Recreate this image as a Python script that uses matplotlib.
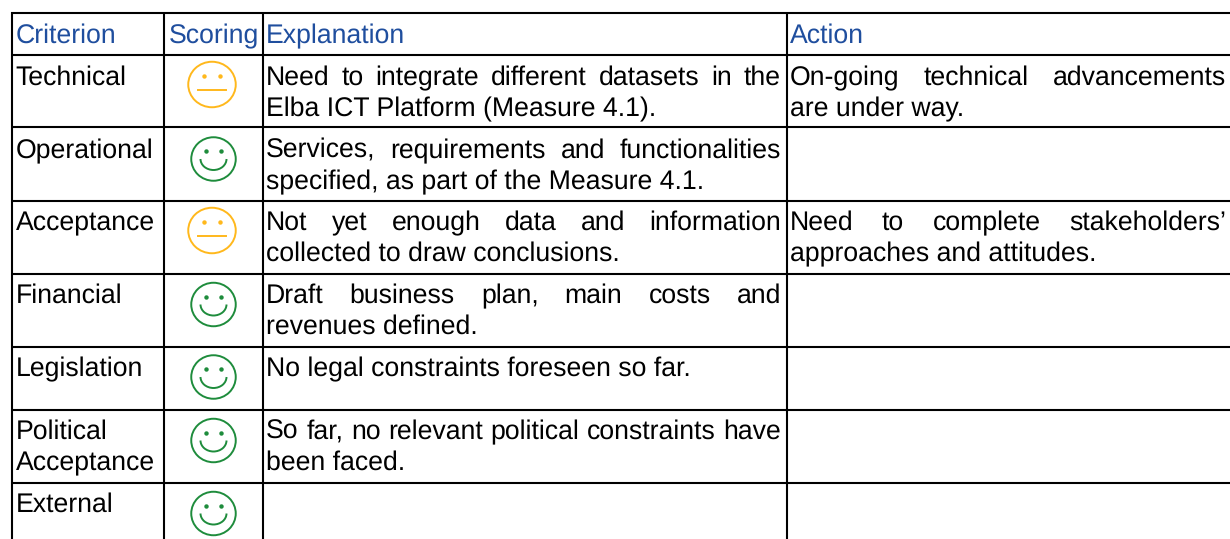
import matplotlib
matplotlib.use('Agg')
import matplotlib.pyplot as plt
from matplotlib.patches import Ellipse, Arc

plt.rcParams['font.family'] = ['Liberation Sans', 'DejaVu Sans']
plt.rcParams['text.hinting'] = 'no_hinting'

headers = ['Criterion', 'Scoring', 'Explanation', 'Action']
criteria = [['Technical'], ['Operational'], ['Acceptance'], ['Financial'],
            ['Legislation'], ['Political', 'Acceptance'], ['External']]
scores = ['neutral', 'good', 'neutral', 'good', 'good', 'good', 'good']
explanations = [
    ['Need to integrate different datasets in the', 'Elba ICT Platform (Measure 4.1).'],
    ['Services, requirements and functionalities', 'specified, as part of the Measure 4.1.'],
    ['Not yet enough data and information', 'collected to draw conclusions.'],
    ['Draft business plan, main costs and', 'revenues defined.'],
    ['No legal constraints foreseen so far.'],
    ['So far, no relevant political constraints have', 'been faced.'],
    [],
]
actions = [
    ['On-going technical advancements', 'are under way.'],
    [],
    ['Need to complete stakeholders\u2019', 'approaches and attitudes.'],
    [], [], [], [],
]

# layout, in pixels of the 1230x539 picture
col_lines = [12, 164, 263, 787]
row_lines = [13, 54.5, 127, 200.5, 273.5, 346.5, 410, 483]
face_y = [84.5, 159, 230.5, 304.5, 377, 440.5, 513.5]
first_base = [85, 158, 230, 303, 376, 439, 512]
line_step = 31
font_size = 19.2
BLUE = '#1F4E9E'
YELLOW = '#FFB81C'
GREEN = '#1E8C3C'
LW = 1.5
FACE_LW = 1.4


def text_width(ax, s):
    t = ax.text(0, 0, s, fontsize=font_size)
    w = t.get_window_extent(ax.figure.canvas.get_renderer()).width
    t.remove()
    return w


def draw_justified(ax, line, x0, x1, y):
    """Spreads the words of one line over the width of the cell."""
    words = line.split()
    widths = [text_width(ax, w) for w in words]
    gap = (x1 - x0 - sum(widths)) / (len(words) - 1)
    x = x0
    for w, width in zip(words, widths):
        ax.text(x, y, w, fontsize=font_size, color='black', va='baseline')
        x += width + gap


def draw_cell(ax, lines, x0, x1, y):
    for i, line in enumerate(lines):
        base = y + i * line_step
        if i < len(lines) - 1:
            draw_justified(ax, line, x0, x1, base)
        else:
            ax.text(x0, base, line, fontsize=font_size, color='black', va='baseline')


def draw_face(ax, kind, y):
    if kind == 'neutral':
        cx = 212
        color = YELLOW
        ax.add_patch(Ellipse((cx, y), 47.5, 45.5, fill=False, ec=color, lw=FACE_LW))
        ax.plot([cx - 14, cx + 14], [y + 5.5, y + 5.5], color=color, lw=FACE_LW)
        eye_dx = 8
        eye_y = y - 9
    else:
        cx = 213.5
        color = GREEN
        ax.add_patch(Ellipse((cx, y), 44.5, 43.5, fill=False, ec=color, lw=FACE_LW))
        ax.add_patch(Arc((cx, y), 26, 22, theta1=0, theta2=180, ec=color, lw=FACE_LW))
        eye_dx = 7.5
        eye_y = y - 8
    ax.plot([cx - eye_dx, cx + eye_dx], [eye_y, eye_y], ls='none',
            marker='o', ms=3.2, color=color, mec='none')


fig = plt.figure(figsize=(12.3, 5.39), dpi=100)
ax = fig.add_axes([0, 0, 1, 1])
ax.set_xlim(0, 1230)
ax.set_ylim(539, 0)
ax.axis('off')
fig.canvas.draw()

for y in row_lines:
    ax.plot([col_lines[0] - 1, 1230], [y, y], color='black', lw=LW, solid_capstyle='butt')
for x in col_lines:
    ax.plot([x, x], [row_lines[0] - 1, 539], color='black', lw=LW, solid_capstyle='butt')

for h, x in zip(headers, [15.5, 168.5, 266, 789.5]):
    ax.text(x, 43, h, fontsize=font_size, color=BLUE, va='baseline')

for i in range(len(criteria)):
    for j, line in enumerate(criteria[i]):
        ax.text(15.5, first_base[i] + j * line_step, line, fontsize=font_size,
                color='black', va='baseline')
    draw_face(ax, scores[i], face_y[i])
    draw_cell(ax, explanations[i], 266, 781, first_base[i])
    draw_cell(ax, actions[i], 789.5, 1226, first_base[i])

fig.savefig('out.png', dpi=100)
plt.close(fig)
